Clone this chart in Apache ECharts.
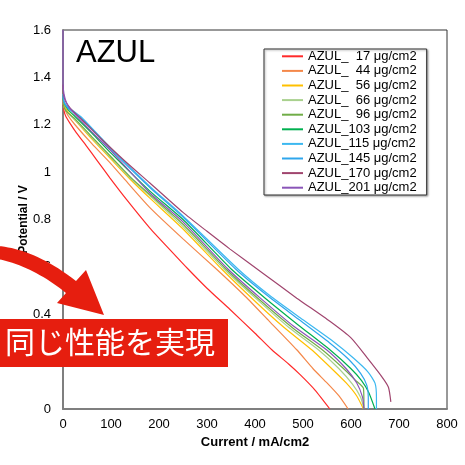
<!DOCTYPE html>
<html>
<head>
<meta charset="utf-8">
<script src="https://cdn.jsdelivr.net/npm/echarts@6/dist/echarts.min.js"></script>
<style>
html,body{margin:0;padding:0;background:#fff;}
#chart{width:465px;height:465px;}
</style>
</head>
<body>
<div id="chart"></div>
<script>
// ---- data (Current mA/cm2, Potential V) ----
var seriesNames = ['AZUL_  17 μg/cm2','AZUL_  44 μg/cm2','AZUL_  56 μg/cm2','AZUL_  66 μg/cm2','AZUL_  96 μg/cm2','AZUL_103 μg/cm2','AZUL_115 μg/cm2','AZUL_145 μg/cm2','AZUL_170 μg/cm2','AZUL_201 μg/cm2'];
var seriesColors = ['#ff2a2a','#f4884a','#ffc000','#a9d18e','#70ad47','#00b050','#3cb8f0','#2fa6ec','#a0456e','#8a55b8'];

var s17 = [[0,1.29],[2,1.26],[6,1.235],[15,1.205],[28,1.166],[49,1.11],[70,1.052],[98,0.975],[133,0.883],[181,0.764],[223,0.672],[261,0.59],[300,0.51],[348,0.42],[400,0.32],[435,0.25],[470,0.19],[494,0.145],[525,0.08],[556,0]];
var s44 = [[0,1.30],[3,1.27],[10,1.24],[25,1.20],[60,1.12],[100,1.035],[129,0.968],[181,0.85],[250,0.718],[320,0.59],[380,0.475],[430,0.37],[487,0.25],[521,0.17],[550,0.11],[575,0.055],[594,0]];
var s56 = [[0,1.31],[3,1.28],[10,1.255],[25,1.22],[60,1.14],[100,1.055],[140,0.97],[181,0.89],[250,0.76],[331,0.59],[400,0.455],[460,0.345],[518,0.25],[560,0.17],[590,0.11],[612,0.055],[626,0]];
var s66 = [[0,1.29],[3,1.27],[10,1.25],[25,1.22],[60,1.145],[100,1.06],[140,0.975],[181,0.9],[250,0.77],[336,0.59],[400,0.47],[470,0.345],[532,0.25],[575,0.17],[603,0.105],[620,0.05],[627,0]];
var s96 = [[0,1.29],[3,1.27],[10,1.25],[25,1.225],[60,1.15],[100,1.065],[140,0.98],[181,0.905],[250,0.78],[340,0.59],[410,0.46],[480,0.34],[540,0.25],[582,0.175],[610,0.12],[626,0.087],[627,0]];
var s103 = [[0,1.31],[3,1.29],[10,1.265],[25,1.235],[60,1.165],[100,1.08],[181,0.92],[250,0.8],[351,0.59],[420,0.47],[490,0.355],[556,0.25],[600,0.17],[622,0.12],[637,0.07],[650,0]];
var s115 = [[0,1.33],[2,1.30],[8,1.28],[20,1.26],[42,1.225],[100,1.1],[181,0.94],[250,0.815],[365,0.59],[430,0.48],[494,0.385],[563,0.285],[605,0.215],[636,0.155],[650,0.109],[653,0.05],[653,0]];
var s145 = [[0,1.32],[2,1.295],[8,1.275],[20,1.255],[42,1.22],[100,1.095],[181,0.935],[250,0.81],[360,0.59],[425,0.48],[490,0.38],[555,0.28],[595,0.21],[620,0.15],[633,0.1],[636,0.05],[636,0]];
var s170 = [[0,1.37],[1,1.33],[5,1.30],[15,1.27],[40,1.22],[80,1.14],[130,1.045],[181,0.954],[250,0.83],[300,0.75],[348,0.675],[417,0.572],[487,0.468],[556,0.37],[600,0.30],[633,0.218],[664,0.137],[678,0.092],[683,0.03]];
var s201 = [[0,1.6],[0,1.38],[2,1.33],[8,1.29],[20,1.255],[60,1.17],[100,1.09],[181,0.912],[250,0.79],[344,0.59],[410,0.47],[480,0.35],[549,0.25],[590,0.17],[612,0.11],[624,0.05],[627,0]];
var seriesData = [s17,s44,s56,s66,s96,s103,s115,s145,s170,s201];

var chartTitle = 'AZUL';
var xAxisName = 'Current / mA/cm2';
var yAxisName = 'Potential / V';
var calloutText = '同じ性能を実現';

var FONT = '"Liberation Sans", Arial, sans-serif';
var RED = '#e61e0f';

// arrow annotation outline (cubic bezier edges sampled into a polygon)
function bez(p0, p1, p2, p3, n) {
  var out = [];
  for (var k = 0; k <= n; k++) {
    var t = k / n, u = 1 - t;
    out.push([
      u*u*u*p0[0] + 3*u*u*t*p1[0] + 3*u*t*t*p2[0] + t*t*t*p3[0],
      u*u*u*p0[1] + 3*u*u*t*p1[1] + 3*u*t*t*p2[1] + t*t*t*p3[1]
    ]);
  }
  return out;
}
var arrowPts = bez([-2,246],[20,248],[45,257],[76,281],20)
  .concat([[86,270],[104,315],[57,303]])
  .concat(bez([66,293],[45,276],[22,264],[-2,259],20));

var chart = echarts.init(document.getElementById('chart'), null, {renderer:'canvas'});

var series = seriesData.map(function(d, i){
  return {
    name: seriesNames[i],
    type: 'line',
    data: d,
    showSymbol: false,
    symbol: 'none',
    smooth: 0.2,
    color: seriesColors[i],
    lineStyle: {width: 1.2, color: seriesColors[i]},
    emphasis: {disabled: true},
    z: 2 + i
  };
});

chart.setOption({
  animation: false,
  backgroundColor: '#fff',
  title: {
    text: chartTitle,
    left: 76, top: 38, padding: 0,
    textStyle: {fontFamily: FONT, fontSize: 31, fontWeight: 'normal', color: '#000'}
  },
  legend: {
    orient: 'vertical',
    left: 264, top: 49,
    padding: [0, 10, 0, 18],
    itemGap: 0,
    itemWidth: 21, itemHeight: 2,
    icon: 'rect',
    backgroundColor: '#fff',
    borderColor: '#333', borderWidth: 1,
    shadowColor: 'rgba(0,0,0,0.35)', shadowBlur: 2, shadowOffsetX: 1, shadowOffsetY: 1,
    data: seriesNames,
    textStyle: {fontFamily: FONT, fontSize: 13, color: '#000', lineHeight: 14.6}
  },
  grid: {
    left: 63, right: 18, top: 30, bottom: 56,
    show: true, borderColor: '#333', borderWidth: 1, backgroundColor: 'transparent'
  },
  xAxis: {
    type: 'value', min: 0, max: 800, interval: 100,
    name: xAxisName, nameLocation: 'middle', nameGap: 27,
    nameTextStyle: {fontFamily: FONT, fontSize: 13, fontWeight: 'bold', color: '#000'},
    axisLine: {show: true, lineStyle: {color: '#7f7f7f', width: 2}},
    axisTick: {show: false},
    splitLine: {show: false},
    axisLabel: {fontFamily: FONT, fontSize: 13, color: '#000', margin: 9}
  },
  yAxis: {
    type: 'value', min: 0, max: 1.6, interval: 0.2,
    name: yAxisName, nameLocation: 'middle', nameGap: 33, nameRotate: 90,
    nameMoveOverlap: false,
    nameTextStyle: {fontFamily: FONT, fontSize: 12, fontWeight: 'bold', color: '#000'},
    axisLine: {show: true, lineStyle: {color: '#7f7f7f', width: 2}},
    axisTick: {show: false},
    splitLine: {show: false},
    axisLabel: {fontFamily: FONT, fontSize: 13, color: '#000', margin: 12}
  },
  series: series,
  graphic: [
    {
      type: 'polygon', z: 100, silent: true,
      shape: {points: arrowPts},
      style: {fill: RED}
    },
    {
      type: 'rect', z: 100, silent: true,
      shape: {x: 0, y: 319, width: 228, height: 48},
      style: {fill: RED}
    },
    {
      type: 'text', z: 101, silent: true,
      left: 5, top: 327,
      style: {text: calloutText, fill: '#fff', font: '30px "Noto Sans CJK JP", sans-serif'}
    }
  ]
});
</script>
</body>
</html>
